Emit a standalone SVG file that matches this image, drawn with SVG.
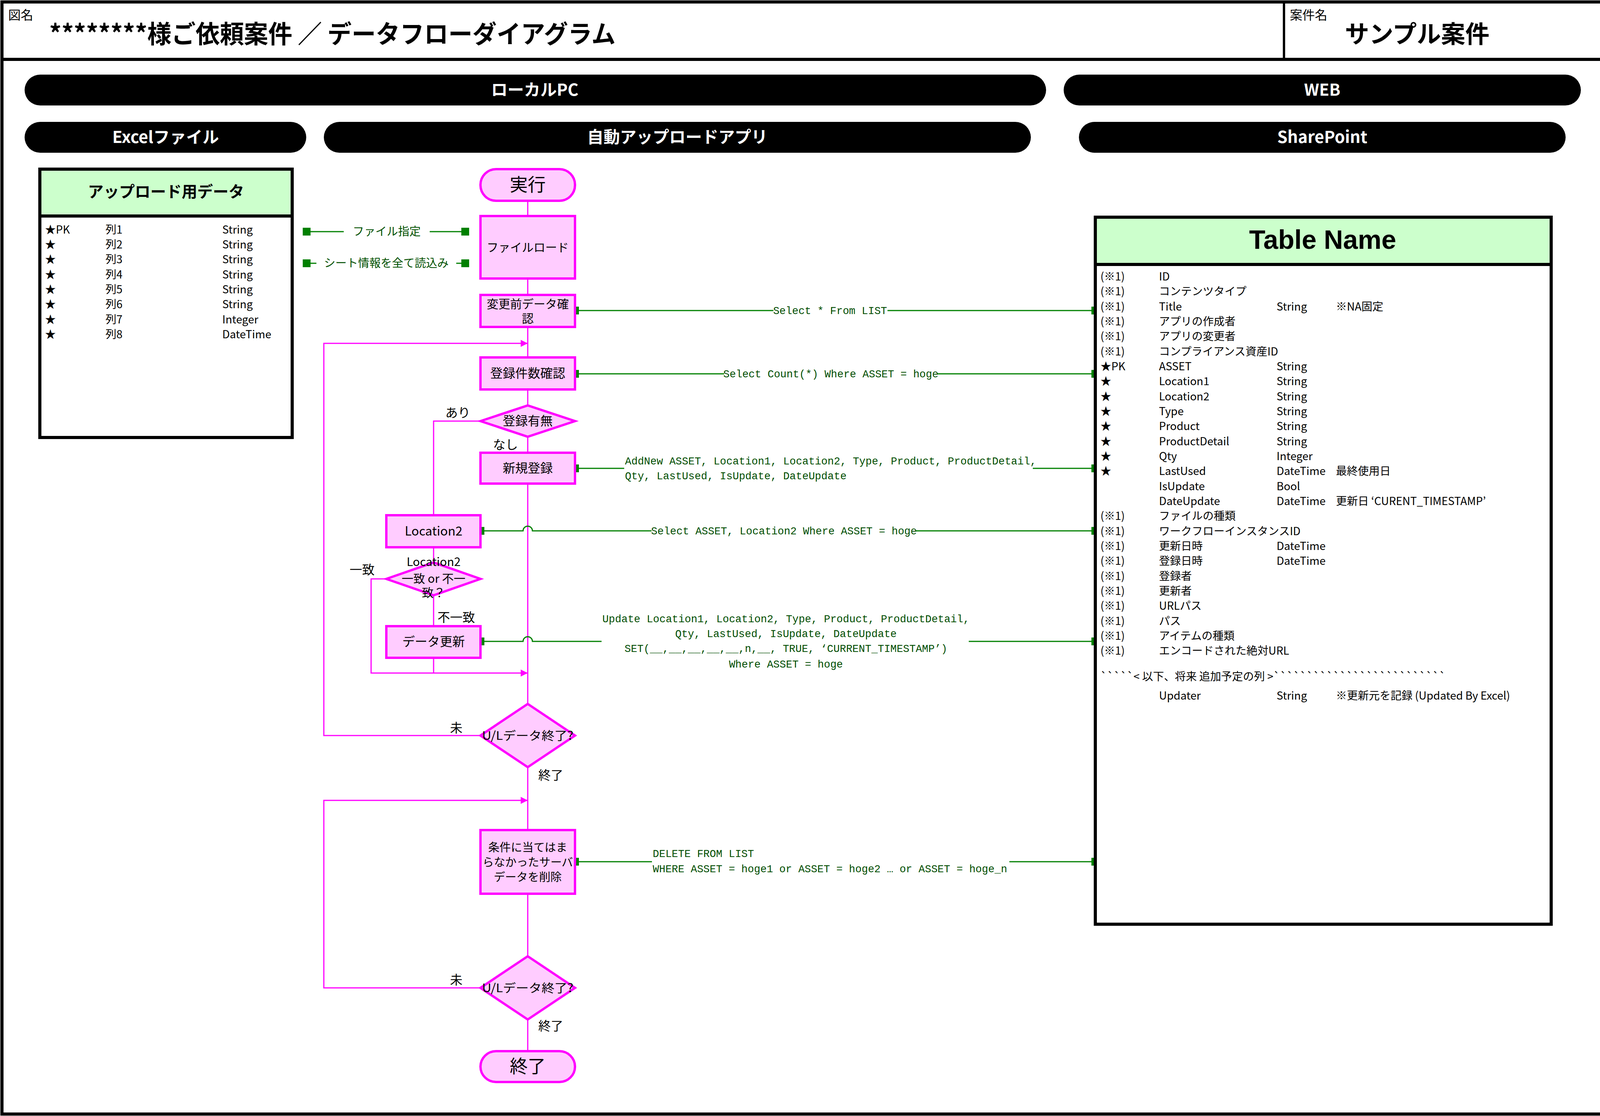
<svg xmlns="http://www.w3.org/2000/svg" width="4113" height="2857" viewBox="0 0 4113 2857">
<defs>
<style>
text{font-family:"Noto Sans CJK JP","Liberation Sans",sans-serif;fill:#000}
.b{font-weight:bold}
.pill{fill:#000}
.pt{fill:#fff;font-weight:bold;font-size:42px;text-anchor:middle}
.nd{fill:#FFCCFF;stroke:#FF00FF;stroke-width:6}
.nt{font-size:32px;text-anchor:middle}
.fl{fill:none;stroke:#FF00FF;stroke-width:3}
.gl{fill:none;stroke:#008000;stroke-width:3}
.sq{fill:#008000}
.ct,.ct text{font-family:"Liberation Mono","Noto Sans CJK JP",monospace;font-size:27px;fill:#004d00}
.gt{font-size:29px;fill:#005000}
.tb{fill:#fff;stroke:#000;stroke-width:8}
.th{fill:#CCFFCC;stroke:#000;stroke-width:8}
.r{font-size:28px}
.lb{font-size:32px}
</style>
<marker id="ar" viewBox="0 0 10 10" refX="10" refY="5" markerWidth="20" markerHeight="18" markerUnits="userSpaceOnUse" orient="auto"><path d="M0,0L10,5L0,10z" fill="#FF00FF"/></marker>
</defs>
<rect x="0" y="0" width="4113" height="2857" fill="#fff"/>
<g id="frame">
<rect x="5" y="5" width="4103" height="2847" fill="none" stroke="#000" stroke-width="8"/>
<line x1="5" y1="152" x2="4108" y2="152" stroke="#000" stroke-width="8"/>
<line x1="3287" y1="5" x2="3287" y2="152" stroke="#000" stroke-width="6"/>
<text x="21" y="50" font-size="32">図名</text>
<text x="126" y="110" font-size="64" class="b" textLength="1450" lengthAdjust="spacingAndGlyphs">********様ご依頼案件 ／ データフローダイアグラム</text>
<text x="3302" y="50" font-size="32">案件名</text>
<text x="3628" y="110" font-size="62" class="b" text-anchor="middle">サンプル案件</text>
</g>
<g id="lanes">
<rect class="pill" x="63" y="191" width="2615" height="79" rx="40"/>
<text class="pt" x="1369" y="245">ローカルPC</text>
<rect class="pill" x="2723" y="191" width="1324" height="79" rx="40"/>
<text class="pt" x="3385" y="245">WEB</text>
<rect class="pill" x="63" y="312" width="721" height="79" rx="40"/>
<text class="pt" x="424" y="366">Excelファイル</text>
<rect class="pill" x="829" y="312" width="1810" height="79" rx="40"/>
<text class="pt" x="1734" y="366">自動アップロードアプリ</text>
<rect class="pill" x="2762" y="312" width="1246" height="79" rx="40"/>
<text class="pt" x="3385" y="366">SharePoint</text>
</g>
<g id="excel">
<rect class="tb" x="102" y="433" width="646" height="687"/>
<rect class="th" x="102" y="433" width="646" height="120"/>
<text x="425" y="505" font-size="40" class="b" text-anchor="middle">アップロード用データ</text>
<g class="r">
<text x="115" y="598">★PK</text><text x="270" y="598">列1</text><text x="569" y="598">String</text>
<text x="115" y="636">★</text><text x="270" y="636">列2</text><text x="569" y="636">String</text>
<text x="115" y="674">★</text><text x="270" y="674">列3</text><text x="569" y="674">String</text>
<text x="115" y="713">★</text><text x="270" y="713">列4</text><text x="569" y="713">String</text>
<text x="115" y="751">★</text><text x="270" y="751">列5</text><text x="569" y="751">String</text>
<text x="115" y="789">★</text><text x="270" y="789">列6</text><text x="569" y="789">String</text>
<text x="115" y="828">★</text><text x="270" y="828">列7</text><text x="569" y="828">Integer</text>
<text x="115" y="866">★</text><text x="270" y="866">列8</text><text x="569" y="866">DateTime</text>
</g>
</g>
<g id="connectors">
<path class="fl" d="M1351,514V2691"/>
<path class="fl" d="M1230,1078H1110V1319"/>
<path class="fl" d="M1110,1401V1603"/>
<path class="fl" d="M1110,1684V1723"/>
<path class="fl" d="M989,1482H950V1723H1351" marker-end="url(#ar)"/>
<path class="fl" d="M1230,1883H829V879H1351" marker-end="url(#ar)"/>
<path class="fl" d="M1230,2529H829V2049H1351" marker-end="url(#ar)"/>
<text class="lb" x="1140" y="1068">あり</text>
<text class="lb" x="1262" y="1150">なし</text>
<text class="lb" x="895" y="1470">一致</text>
<text class="lb" x="1120" y="1592">不一致</text>
<text class="lb" x="1152" y="1875">未</text>
<text class="lb" x="1378" y="1996">終了</text>
<text class="lb" x="1152" y="2520">未</text>
<text class="lb" x="1378" y="2638">終了</text>
<path class="gl" d="M785,593H880M1100,593H1185"/>
<rect class="sq" x="775" y="583" width="20" height="20"/><rect class="sq" x="1181" y="583" width="20" height="20"/>
<text class="gt" x="990" y="603" text-anchor="middle">ファイル指定</text>
<path class="gl" d="M785,674H810M1168,674H1185"/>
<rect class="sq" x="775" y="664" width="20" height="20"/><rect class="sq" x="1181" y="664" width="20" height="20"/>
<text class="gt" x="989" y="684" text-anchor="middle">シート情報を全て読込み</text>
<path class="gl" d="M1472,795H1980M2272,795H2804"/>
<rect class="sq" x="1462" y="785" width="20" height="20"/><rect class="sq" x="2794" y="785" width="20" height="20"/>
<text class="ct" x="2125" y="804" text-anchor="middle">Select * From LIST</text>
<path class="gl" d="M1472,957H1854M2400,957H2804"/>
<rect class="sq" x="1462" y="947" width="20" height="20"/><rect class="sq" x="2794" y="947" width="20" height="20"/>
<text class="ct" x="2127" y="966" text-anchor="middle">Select Count(*) Where ASSET = hoge</text>
<path class="gl" d="M1472,1199H1598M2644,1199H2804"/>
<rect class="sq" x="1462" y="1189" width="20" height="20"/><rect class="sq" x="2794" y="1189" width="20" height="20"/>
<text class="ct" x="1600" y="1189">AddNew ASSET, Location1, Location2, Type, Product, ProductDetail,</text>
<text class="ct" x="1600" y="1227">Qty, LastUsed, IsUpdate, DateUpdate</text>
<path class="gl" d="M1230,1359H1339A12,12 0 0 1 1363,1359H1668M2345,1359H2804"/>
<rect class="sq" x="1220" y="1349" width="20" height="20"/><rect class="sq" x="2794" y="1349" width="20" height="20"/>
<text class="ct" x="2007" y="1368" text-anchor="middle">Select ASSET, Location2 Where ASSET = hoge</text>
<path class="gl" d="M1230,1642H1339A12,12 0 0 1 1363,1642H1540M2480,1642H2804"/>
<rect class="sq" x="1220" y="1632" width="20" height="20"/><rect class="sq" x="2794" y="1632" width="20" height="20"/>
<g class="ct" text-anchor="middle">
<text x="2012" y="1593">Update Location1, Location2, Type, Product, ProductDetail,</text>
<text x="2012" y="1631">Qty, LastUsed, IsUpdate, DateUpdate</text>
<text x="2012" y="1669">SET(__,__,__,__,__,n,__, TRUE, ‘CURRENT_TIMESTAMP’)</text>
<text x="2012" y="1709">Where ASSET = hoge</text>
</g>
<path class="gl" d="M1472,2206H1669M2584,2206H2804"/>
<rect class="sq" x="1462" y="2196" width="20" height="20"/><rect class="sq" x="2794" y="2196" width="20" height="20"/>
<text class="ct" x="1671" y="2194">DELETE FROM LIST</text>
<text class="ct" x="1671" y="2233">WHERE ASSET = hoge1 or ASSET = hoge2 … or ASSET = hoge_n</text>
</g>
<g id="n_start"><rect class="nd" x="1230" y="433" width="242" height="81" rx="40"/><text class="nt" x="1351" y="489" style="font-size:46px">実行</text></g>
<g id="n_load"><rect class="nd" x="1230" y="553" width="242" height="160"/><text class="nt" x="1351" y="644" style="font-size:30px">ファイルロード</text></g>
<g id="n_check"><rect class="nd" x="1230" y="755" width="242" height="82"/><text class="nt" x="1351" y="789" style="font-size:30px">変更前データ確</text><text class="nt" x="1351" y="826" style="font-size:30px">認</text></g>
<g id="n_count"><rect class="nd" x="1230" y="915" width="242" height="82"/><text class="nt" x="1351" y="967">登録件数確認</text></g>
<g id="n_exist"><path class="nd" d="M1230,1078L1351,1038L1472,1078L1351,1118Z"/><text class="nt" x="1351" y="1089">登録有無</text></g>
<g id="n_new"><rect class="nd" x="1230" y="1159" width="242" height="79"/><text class="nt" x="1351" y="1210">新規登録</text></g>
<g id="n_loc2"><rect class="nd" x="989" y="1319" width="241" height="82"/><text class="nt" x="1110" y="1371">Location2</text></g>
<g id="n_match"><path class="nd" d="M989,1482L1110,1440L1230,1482L1110,1524Z"/><text class="nt" x="1110" y="1449" style="font-size:30px">Location2</text><text class="nt" x="1110" y="1492" style="font-size:30px">一致 or 不一</text><text class="nt" x="1110" y="1528" style="font-size:30px">致？</text></g>
<g id="n_update"><rect class="nd" x="989" y="1603" width="241" height="81"/><text class="nt" x="1110" y="1654">データ更新</text></g>
<g id="n_end1"><path class="nd" d="M1230,1883L1351,1802L1472,1883L1351,1964Z"/><text class="nt" x="1351" y="1894" style="font-size:30px" textLength="234" lengthAdjust="spacingAndGlyphs">U/Lデータ終了?</text></g>
<g id="n_delete"><rect class="nd" x="1230" y="2125" width="242" height="163"/><text class="nt" x="1351" y="2180" style="font-size:29px">条件に当てはま</text><text class="nt" x="1351" y="2218" style="font-size:29px">らなかったサーバ</text><text class="nt" x="1351" y="2256" style="font-size:29px">データを削除</text></g>
<g id="n_end2"><path class="nd" d="M1230,2529L1351,2448L1472,2529L1351,2610Z"/><text class="nt" x="1351" y="2540" style="font-size:30px" textLength="234" lengthAdjust="spacingAndGlyphs">U/Lデータ終了?</text></g>
<g id="n_finish"><rect class="nd" x="1230" y="2691" width="242" height="79" rx="40"/><text class="nt" x="1351" y="2746" style="font-size:46px">終了</text></g>
<g id="sharepoint">
<rect class="tb" x="2804" y="556" width="1167" height="1810"/>
<rect class="th" x="2804" y="556" width="1167" height="121"/>
<text x="3386" y="637" font-size="68" class="b" text-anchor="middle" style="font-family:'Liberation Sans',sans-serif">Table Name</text>
<g class="r">
<text x="2817" y="718">(※1)</text><text x="2967" y="718">ID</text>
<text x="2817" y="756">(※1)</text><text x="2967" y="756">コンテンツタイプ</text>
<text x="2817" y="795">(※1)</text><text x="2967" y="795">Title</text><text x="3268" y="795">String</text><text x="3420" y="795">※NA固定</text>
<text x="2817" y="833">(※1)</text><text x="2967" y="833">アプリの作成者</text>
<text x="2817" y="871">(※1)</text><text x="2967" y="871">アプリの変更者</text>
<text x="2817" y="910">(※1)</text><text x="2967" y="910">コンプライアンス資産ID</text>
<text x="2817" y="948">★PK</text><text x="2967" y="948">ASSET</text><text x="3268" y="948">String</text>
<text x="2817" y="986">★</text><text x="2967" y="986">Location1</text><text x="3268" y="986">String</text>
<text x="2817" y="1025">★</text><text x="2967" y="1025">Location2</text><text x="3268" y="1025">String</text>
<text x="2817" y="1063">★</text><text x="2967" y="1063">Type</text><text x="3268" y="1063">String</text>
<text x="2817" y="1101">★</text><text x="2967" y="1101">Product</text><text x="3268" y="1101">String</text>
<text x="2817" y="1140">★</text><text x="2967" y="1140">ProductDetail</text><text x="3268" y="1140">String</text>
<text x="2817" y="1178">★</text><text x="2967" y="1178">Qty</text><text x="3268" y="1178">Integer</text>
<text x="2817" y="1216">★</text><text x="2967" y="1216">LastUsed</text><text x="3268" y="1216">DateTime</text><text x="3420" y="1216">最終使用日</text>
<text x="2967" y="1255">IsUpdate</text><text x="3268" y="1255">Bool</text>
<text x="2967" y="1293">DateUpdate</text><text x="3268" y="1293">DateTime</text><text x="3420" y="1293">更新日 ‘CURENT_TIMESTAMP’</text>
<text x="2817" y="1331">(※1)</text><text x="2967" y="1331">ファイルの種類</text>
<text x="2817" y="1370">(※1)</text><text x="2967" y="1370">ワークフローインスタンスID</text>
<text x="2817" y="1408">(※1)</text><text x="2967" y="1408">更新日時</text><text x="3268" y="1408">DateTime</text>
<text x="2817" y="1446">(※1)</text><text x="2967" y="1446">登録日時</text><text x="3268" y="1446">DateTime</text>
<text x="2817" y="1485">(※1)</text><text x="2967" y="1485">登録者</text>
<text x="2817" y="1523">(※1)</text><text x="2967" y="1523">更新者</text>
<text x="2817" y="1561">(※1)</text><text x="2967" y="1561">URLパス</text>
<text x="2817" y="1600">(※1)</text><text x="2967" y="1600">パス</text>
<text x="2817" y="1638">(※1)</text><text x="2967" y="1638">アイテムの種類</text>
<text x="2817" y="1676">(※1)</text><text x="2967" y="1676">エンコードされた絶対URL</text>
<text x="2817" y="1742">`````&lt; 以下、将来 追加予定の列 &gt;``````````````````````````</text>
<text x="2967" y="1791">Updater</text><text x="3268" y="1791">String</text><text x="3420" y="1791">※更新元を記録 (Updated By Excel)</text>
</g>
</g>
</svg>
